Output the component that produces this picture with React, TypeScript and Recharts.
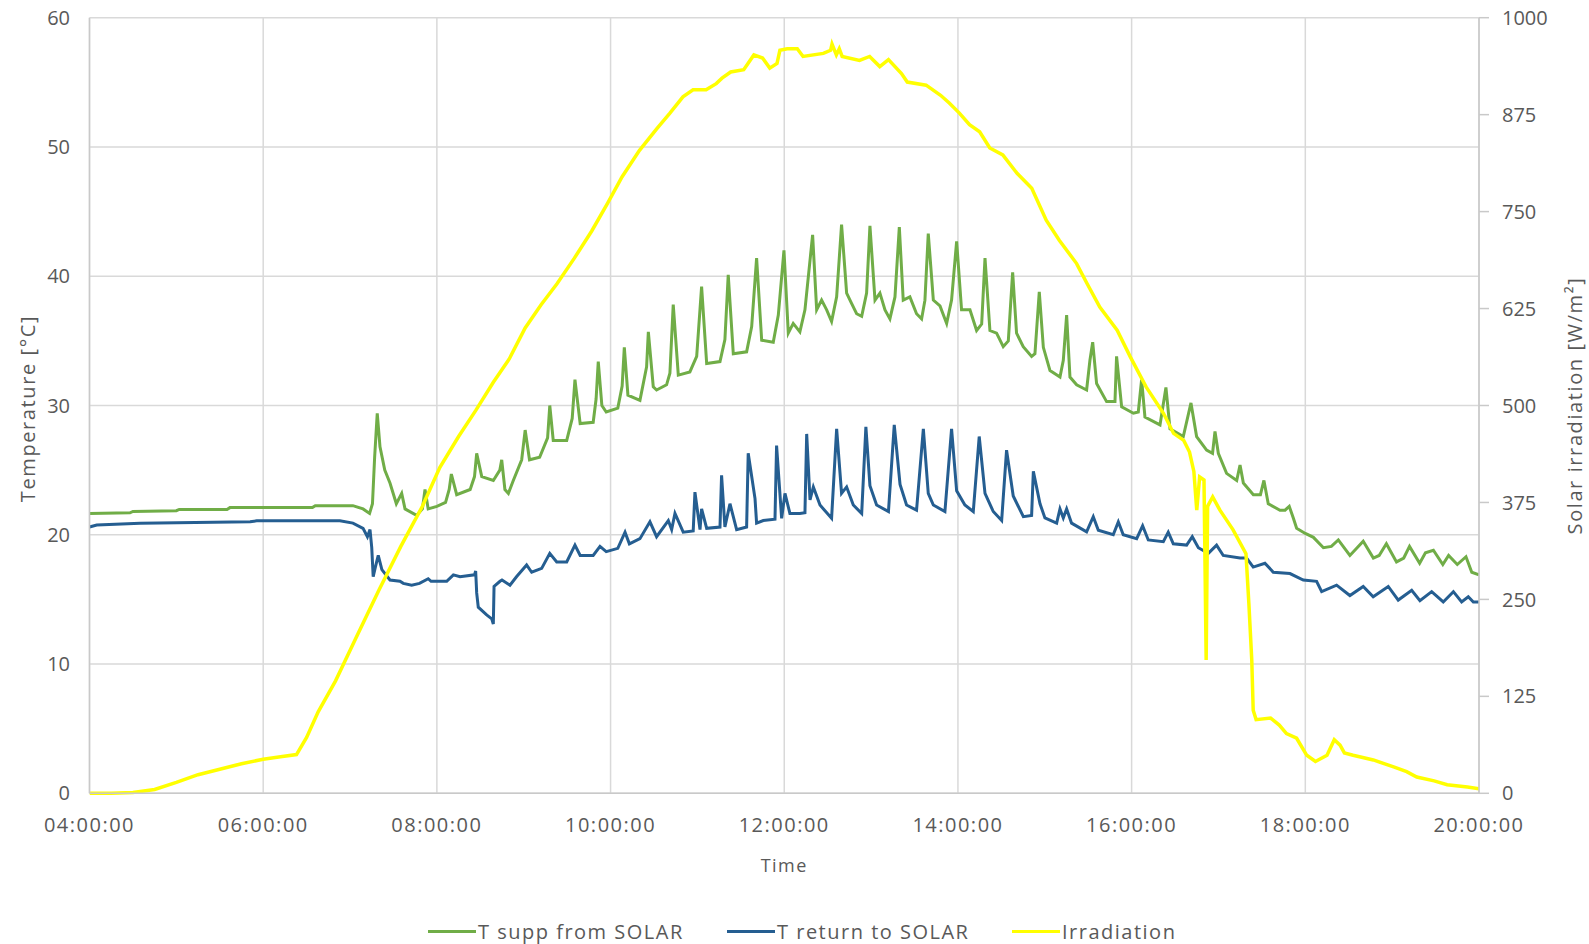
import React from 'react';
import { LineChart, Line, XAxis, YAxis, CartesianGrid, Legend } from 'recharts';

// x values are minutes after midnight
const timeTicks = [240, 360, 480, 600, 720, 840, 960, 1080, 1200];
const temperatureTicks = [0, 10, 20, 30, 40, 50, 60];
const irradiationTicks = [0, 125, 250, 375, 500, 625, 750, 875, 1000];

const seriesNames = ['T supp from SOLAR', 'T return to SOLAR', 'Irradiation'];
const seriesColors = ['#70ad47', '#255e91', '#ffff00'];

const supplySeries: [number, number][] = [
  [240,21.65],[268,21.7],[270,21.8],[300,21.86],[302,21.96],[335,21.96],[337,22.1],[394,22.1],[396,22.25],[422,22.25],[429,22.0],[433.5,21.65],[435.5,22.4],[437,26],[438.8,29.4],[440.7,26.8],[444,25.0],[447.6,24.0],[452,22.4],[455.7,23.2],[458,22.0],[466,21.5],[470,22.0],[471.8,23.5],[474,22.0],[480,22.2],[486,22.5],[488.5,23.5],[490,24.7],[493.7,23.1],[503,23.5],[506,24.5],[507.5,26.3],[511,24.5],[519,24.2],[523.5,25.0],[524.8,25.8],[527,23.5],[529.4,23.2],[532.8,24.2],[538.6,25.8],[541,28.1],[544,25.8],[551,26.0],[556.5,27.5],[558,30.0],[560.4,27.3],[569.7,27.3],[573.5,29.0],[575.4,32.0],[579,28.6],[588,28.7],[590,30.5],[591.5,33.4],[594,30.0],[597,29.5],[605,29.8],[608,31.5],[609.5,34.5],[612,30.8],[620.3,30.4],[624.9,33.0],[626.1,35.7],[629.5,31.45],[631.8,31.2],[638.7,31.6],[641,32.5],[643.3,37.8],[646.8,32.35],[654.8,32.6],[659.5,33.8],[662.9,39.2],[666.4,33.25],[675.6,33.4],[679,35.1],[681.3,40.1],[684.8,34.0],[694,34.15],[697.5,36.1],[700.9,41.4],[704.4,35.05],[712.4,34.9],[715.9,37.0],[719.8,42.0],[722.8,35.6],[726.2,36.35],[730.8,35.7],[734.3,37.4],[739.6,43.2],[742.4,37.4],[745.8,38.15],[749.3,37.4],[752.7,36.5],[756.2,38.4],[759.6,44.0],[763.1,38.7],[766.5,37.9],[770,37.1],[773.5,36.9],[776.9,38.7],[779.2,43.9],[782.7,38.15],[786.1,38.7],[789.6,37.4],[793,36.7],[796.5,38.4],[799.5,43.8],[802.2,38.15],[806.8,38.4],[811.4,37.1],[814.9,36.7],[817.2,38.15],[819.5,43.3],[823,38.15],[827.6,37.7],[832.2,36.35],[835.6,38.15],[839.1,42.7],[842.5,37.4],[848.3,37.4],[852.9,35.8],[856.4,36.3],[858.7,41.4],[862.1,35.8],[866.7,35.6],[871.3,34.55],[874.8,35.0],[877.8,40.3],[880.5,35.6],[885.1,34.55],[890.9,33.8],[893.2,34.0],[896.2,38.8],[899,34.5],[903.6,32.7],[910.5,32.2],[912.8,33.5],[915.1,37.0],[917.4,32.2],[922,31.6],[928.9,31.2],[931.2,33.5],[933.1,34.9],[935.8,31.7],[942.7,30.3],[948.5,30.3],[949.6,33.8],[953.1,29.9],[961.2,29.4],[964.6,29.5],[966.9,32.0],[969.2,29.1],[979.6,28.5],[983.7,31.4],[986.5,28.2],[995.7,27.6],[1001,30.2],[1004.9,27.6],[1011.8,26.55],[1015.9,26.3],[1017.6,28.0],[1019.9,26.3],[1025.6,24.75],[1032.6,24.2],[1034.9,25.4],[1037.2,24.0],[1044.1,23.1],[1049,23.1],[1051.4,24.2],[1054.4,22.4],[1062.5,21.9],[1066,21.9],[1068.9,22.2],[1071.7,21.3],[1074,20.5],[1080,20.1],[1085.6,19.8],[1092.5,19.0],[1098,19.1],[1102.8,19.6],[1110.8,18.4],[1115,18.9],[1120,19.5],[1127,18.2],[1131,18.4],[1136,19.3],[1143,17.9],[1148,18.2],[1152,19.1],[1159,17.8],[1163,18.6],[1168.5,18.8],[1175,17.7],[1179,18.4],[1185,17.7],[1191,18.3],[1195,17.1],[1200,16.9]
];

const returnSeries: [number, number][] = [
  [240,20.6],[245,20.75],[275,20.9],[351,21.0],[355.5,21.08],[413,21.08],[422,20.9],[429,20.5],[432,19.85],[433.8,20.4],[435,19.0],[436,16.75],[437.5,17.5],[439.5,18.4],[442,17.3],[447.6,16.5],[454.5,16.4],[456.8,16.24],[462.6,16.1],[468,16.24],[474,16.6],[476,16.4],[486.8,16.4],[491.4,16.9],[496,16.75],[506,16.9],[506.8,17.2],[507.5,15.5],[508.6,14.4],[514.4,13.8],[517.9,13.5],[519,13.1],[519.5,16.0],[523.6,16.4],[525,16.5],[530.5,16.1],[535,16.75],[542,17.66],[545.5,17.1],[552.4,17.4],[558,18.56],[562.8,17.9],[569.7,17.9],[575.4,19.2],[579,18.4],[588,18.4],[592.7,19.1],[597,18.7],[605,18.95],[610,20.2],[613,19.3],[620.3,19.7],[627.2,21.0],[631.8,19.85],[639.9,21.1],[642.2,20.4],[644.5,21.65],[650.2,20.2],[657.1,20.3],[658.3,23.3],[661.8,20.4],[662.9,22.0],[666.4,20.5],[675.6,20.6],[676.7,24.6],[679,20.6],[682.5,22.4],[687.1,20.4],[694,20.6],[695.1,26.3],[699.8,22.8],[700.9,20.9],[705.5,21.1],[713.6,21.2],[714.7,26.9],[718.2,21.27],[720.5,23.2],[723.9,21.65],[730.8,21.65],[734.3,21.7],[735.5,27.8],[737.8,22.7],[740.1,23.7],[744.7,22.3],[752.7,21.27],[756.2,28.2],[759.6,23.2],[763.1,23.7],[767.7,22.3],[773.5,21.65],[776.4,28.35],[779.2,23.8],[783.8,22.3],[792,21.8],[796,28.5],[800,23.9],[804.5,22.3],[811.4,21.9],[816.1,28.2],[819.5,23.2],[823,22.3],[831,21.8],[835.6,28.2],[839.1,23.4],[844.8,22.3],[850.6,21.8],[854.7,27.6],[858.7,23.2],[864.4,21.8],[870.2,21.1],[873.6,26.55],[878.2,23.0],[885.2,21.4],[890.9,21.5],[892.1,24.9],[896.7,22.4],[900.1,21.3],[908.2,20.9],[910.5,22.0],[912.8,21.3],[915.1,22.0],[918.5,20.9],[928.9,20.23],[933.5,21.4],[937,20.35],[947.3,20.0],[950.8,21.0],[954.2,20.0],[963.5,19.7],[967.6,20.7],[971.5,19.6],[981.9,19.46],[985.3,20.2],[988.8,19.3],[998,19.2],[1001.9,19.85],[1006.1,19.0],[1013,18.56],[1018.7,19.2],[1023.3,18.4],[1034.9,18.2],[1039.4,18.2],[1044,17.5],[1052.1,17.8],[1057.9,17.1],[1069.4,17.0],[1078.6,16.5],[1087.8,16.4],[1091.3,15.6],[1101.6,16.1],[1110.8,15.3],[1120,16.0],[1126.9,15.2],[1137.3,16.0],[1144.2,14.95],[1153.5,15.7],[1159.2,14.9],[1167.3,15.6],[1175.3,14.8],[1182.3,15.6],[1188,14.8],[1192.6,15.2],[1196.1,14.8],[1200,14.8]
];

const irradiationSeries: [number, number][] = [
  [240,0],[255,0],[270,1],[285,5],[300,14],[315,24],[330,31],[345,38],[360,44],[372,47],[383,50],[390,72],[398,105],[410,145],[424,200],[440,262],[455,318],[470,370],[482,420],[495,460],[507,494],[519,530],[530,560],[541,600],[552,630],[563,657],[575,690],[587,725],[598,761],[608,795],[620,829],[632,857],[641,877],[650,898],[657,907],[666,907],[673,915],[677,922],[683,930],[692,933],[699,952],[705,948],[710,935],[715,941],[717,958],[722,960],[729,960],[733,950],[747,954],[752,958],[753,966],[756,952],[758,960],[760,950],[772,945],[779,950],[786,937],[792,946],[801,928],[805,917],[818,913],[828,900],[834,890],[841,877],[848,862],[855,853],[862,832],[871,823],[881,799],[891,780],[901,739],[910,713],[922,683],[929,658],[938,627],[950,597],[959,563],[970,524],[982,490],[989,464],[996,455],[1000,440],[1003,415],[1005,365],[1007,408],[1010,404],[1011.5,172],[1012.5,370],[1016,382],[1021,365],[1030,340],[1039,309],[1041,245],[1043,172],[1044,107],[1046,95],[1056,97],[1062,88],[1067,77],[1074,71],[1081,49],[1087,41],[1095,49],[1100,69],[1104,62],[1107,52],[1113,49],[1127,43],[1141,34],[1150,28],[1157,21],[1169,16],[1178,11],[1192,8],[1200,6]
];

const toPoints = (s: [number, number][]) => s.map(([t, v]) => ({ t, v }));
const supplyData = toPoints(supplySeries);
const returnData = toPoints(returnSeries);
const irradiationData = toPoints(irradiationSeries);

const FONT = '"Open Sans", "Noto Sans", sans-serif';
const TEXT = '#595959';
const GRID = '#d9d9d9';
const AXIS = '#c9c9c9';

const pad = (n: number) => String(n).padStart(2, '0');
const fmtTime = (v: number) => `${pad(Math.floor(v / 60))}:${pad(v % 60)}:00`;

const LeftTitle = (props: any) => {
  const vb = props.viewBox || {};
  const cx = (vb.x || 0) + 27;
  const cy = (vb.y || 0) + (vb.height || 0) / 2 + 3;
  return (
    <text x={cx} y={cy} transform={`rotate(-90 ${cx} ${cy})`} textAnchor="middle" dominantBaseline="central"
      fill={TEXT} style={{ fontFamily: FONT, fontSize: 20, letterSpacing: 1.6 }}>Temperature [°C]</text>
  );
};

const RightTitle = (props: any) => {
  const vb = props.viewBox || {};
  const cx = (vb.x || 0) + 95;
  const cy = (vb.y || 0) + (vb.height || 0) / 2;
  return (
    <text x={cx} y={cy} transform={`rotate(-90 ${cx} ${cy})`} textAnchor="middle" dominantBaseline="central"
      fill={TEXT} style={{ fontFamily: FONT, fontSize: 20, letterSpacing: 1.6 }}>Solar irradiation [W/m²]</text>
  );
};

const BottomTitle = (props: any) => {
  const vb = props.viewBox || {};
  const cx = (vb.x || 0) + (vb.width || 0) / 2;
  const cy = (vb.y || 0) + 72;
  return (
    <text x={cx} y={cy} textAnchor="middle" dominantBaseline="central" fill={TEXT}
      style={{ fontFamily: FONT, fontSize: 18, letterSpacing: 1.5 }}>Time</text>
  );
};

const legendLefts = [428, 727, 1012];

const renderLegend = () => (
  <div style={{ position: 'relative', width: 1589, height: 28, fontFamily: FONT, fontSize: 20, color: TEXT }}>
    {seriesNames.map((name, i) => (
      <div key={name} style={{ position: 'absolute', left: legendLefts[i], top: 0, height: 28, display: 'flex', alignItems: 'center', whiteSpace: 'nowrap' }}>
        <span style={{ display: 'inline-block', width: 48, height: 3, background: seriesColors[i] }} />
        <span style={{ marginLeft: 2, letterSpacing: 1.5 }}>{name}</span>
      </div>
    ))}
  </div>
);

export default function App() {
  const tickStyle = { fontFamily: FONT, fontSize: 20, fill: TEXT };
  return (
    <div style={{ width: 1589, height: 944, background: '#fff' }}>
      <style>{'body{margin:0;overflow:hidden;background:#fff}'}</style>
      <LineChart width={1589} height={944} margin={{ top: 17.7, right: 0, bottom: 60.7, left: 0 }}>
        <CartesianGrid yAxisId="left" stroke={GRID} strokeWidth={1.5} vertical horizontal />
        <XAxis
          dataKey="t"
          type="number"
          domain={[240, 1200]}
          ticks={timeTicks}
          tickFormatter={fmtTime}
          allowDataOverflow
          height={90}
          tickLine={false}
          tickSize={6}
          tickMargin={18}
          axisLine={{ stroke: AXIS, strokeWidth: 1.5 }}
          tick={{ ...tickStyle, letterSpacing: 1.5 } as any}
          label={<BottomTitle />}
        />
        <YAxis
          yAxisId="left"
          orientation="left"
          domain={[0, 60]}
          ticks={temperatureTicks}
          width={89.5}
          tickLine={false}
          tickSize={6}
          tickMargin={13.5}
          axisLine={{ stroke: AXIS, strokeWidth: 1.5 }}
          tick={tickStyle}
          label={<LeftTitle />}
        />
        <YAxis
          yAxisId="right"
          orientation="right"
          domain={[0, 1000]}
          ticks={irradiationTicks}
          width={110}
          tickLine={{ stroke: AXIS, strokeWidth: 1.5 }}
          tickSize={10}
          tickMargin={13}
          axisLine={{ stroke: AXIS, strokeWidth: 1.5 }}
          tick={{ ...tickStyle, textAnchor: 'start' } as any}
          label={<RightTitle />}
        />
        <Legend
          verticalAlign="middle"
          align="center"
          layout="horizontal"
          content={renderLegend}
          wrapperStyle={{ left: 0, top: 917, width: 1589 }}
        />
        <Line yAxisId="left" data={supplyData} dataKey="v" name={seriesNames[0]} type="linear"
          stroke={seriesColors[0]} strokeWidth={3} dot={false} activeDot={false} isAnimationActive={false} />
        <Line yAxisId="left" data={returnData} dataKey="v" name={seriesNames[1]} type="linear"
          stroke={seriesColors[1]} strokeWidth={3} dot={false} activeDot={false} isAnimationActive={false} />
        <Line yAxisId="right" data={irradiationData} dataKey="v" name={seriesNames[2]} type="linear"
          stroke={seriesColors[2]} strokeWidth={3.5} dot={false} activeDot={false} isAnimationActive={false} />
      </LineChart>
    </div>
  );
}
